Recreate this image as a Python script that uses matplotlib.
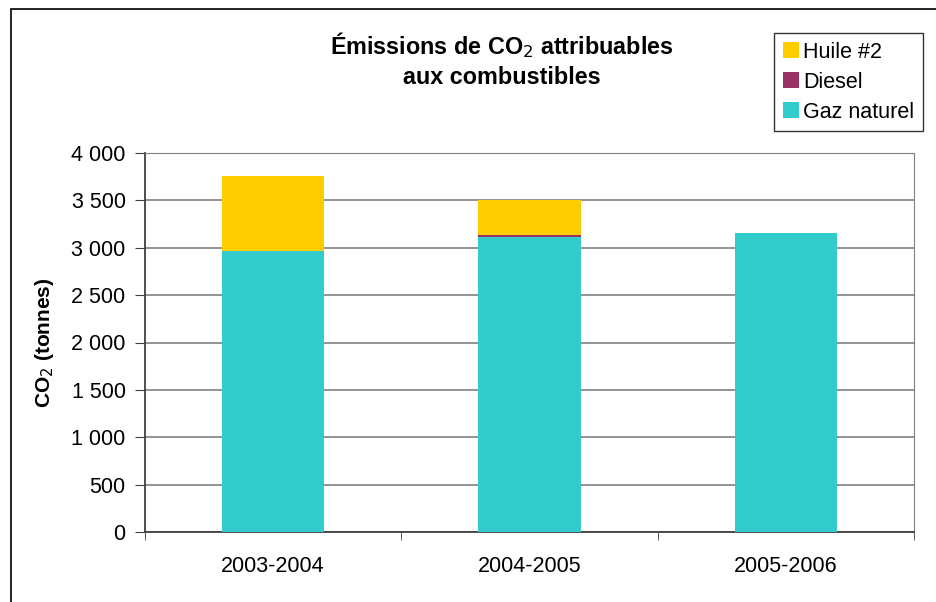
import matplotlib.pyplot as plt
from matplotlib.patches import Rectangle
from matplotlib.ticker import FuncFormatter

plt.rcParams['font.family'] = ['Liberation Sans', 'DejaVu Sans']

categories = ['2003-2004', '2004-2005', '2005-2006']
gaz_naturel = [2965, 3115, 3155]
diesel = [0, 20, 0]
huile_2 = [790, 370, 0]

COLOR_GAZ = '#33CCCC'
COLOR_DIESEL = '#993366'
COLOR_HUILE = '#FFCC00'

fig = plt.figure(figsize=(9.36, 6.02), dpi=100)
ax = fig.add_axes([145 / 936, 70 / 602, 769 / 936, 379 / 602])

x = list(range(len(categories)))
w = 0.4
bottom2 = [g + d for g, d in zip(gaz_naturel, diesel)]
b_gaz = ax.bar(x, gaz_naturel, w, color=COLOR_GAZ, label='Gaz naturel', zorder=3)
b_die = ax.bar(x, diesel, w, bottom=gaz_naturel, color=COLOR_DIESEL, label='Diesel', zorder=3)
b_hui = ax.bar(x, huile_2, w, bottom=bottom2, color=COLOR_HUILE, label='Huile #2', zorder=3)

ax.set_xlim(-0.5, 2.5)
ax.set_ylim(0, 4000)
ax.set_yticks(range(0, 4001, 500))
ax.yaxis.set_major_formatter(FuncFormatter(lambda v, p: f'{int(v):,}'.replace(',', ' ')))
ax.set_xticks(x)
ax.set_xticklabels(categories)
ax.set_xticks([-0.5, 0.5, 1.5, 2.5], minor=True)
ax.tick_params(axis='x', which='major', length=0, pad=17, labelsize=15.5)
ax.tick_params(axis='x', which='minor', length=6, direction='out', color='#404040')
ax.tick_params(axis='y', length=7, direction='out', pad=7, labelsize=15.5, color='#404040')

ax.grid(axis='y', color='#808080', linewidth=1.2, zorder=0)
for s in ['top', 'right']:
    ax.spines[s].set_color('#808080')
for s in ['left', 'bottom']:
    ax.spines[s].set_color('#404040')
    ax.spines[s].set_linewidth(1.3)

ax.set_ylabel('CO$_2$ (tonnes)', fontsize=15, fontweight='bold', labelpad=11)

fig.text(502 / 936, 1 - 45 / 602, 'Émissions de CO$_2$ attribuables', ha='center', va='center',
         fontsize=16.8, fontweight='bold')
fig.text(502 / 936, 1 - 77 / 602, 'aux combustibles', ha='center', va='center',
         fontsize=16.8, fontweight='bold')

leg = fig.legend(handles=[b_hui, b_die, b_gaz], loc='upper left',
                 bbox_to_anchor=(774 / 936, 1 - 33 / 602), fontsize=15.5,
                 frameon=True, fancybox=False, edgecolor='black', handlelength=0.75,
                 handleheight=0.75, handletextpad=0.2, borderpad=0.4, labelspacing=0.42,
                 borderaxespad=0)
leg.get_frame().set_linewidth(1.0)

fig.patches.append(Rectangle((11 / 936, -0.1), 1.2, 1 - 9 / 602 + 0.1, transform=fig.transFigure,
                             fill=False, edgecolor='black', linewidth=1.2))

fig.savefig('out.png', dpi=100)
